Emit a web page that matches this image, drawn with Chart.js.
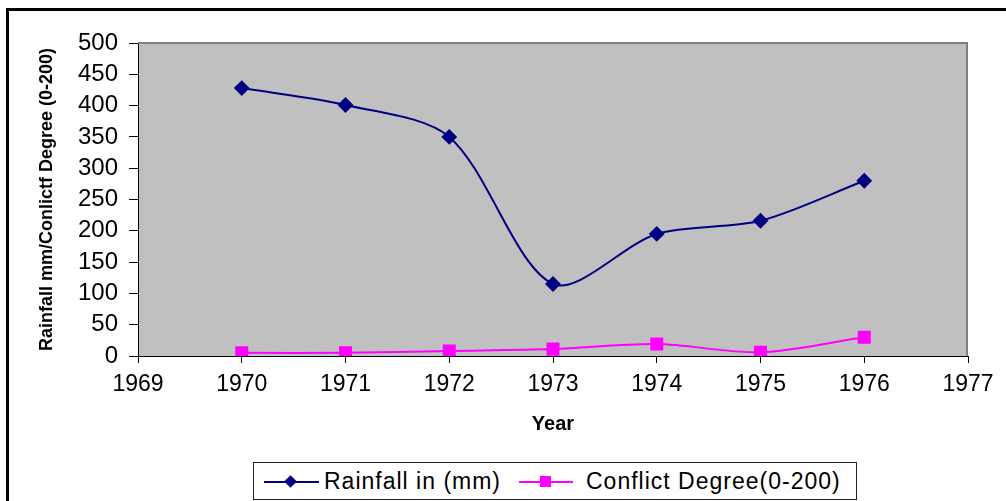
<!DOCTYPE html>
<html><head><meta charset="utf-8">
<script src="https://cdn.jsdelivr.net/npm/chart.js@4"></script>
<style>
html,body{margin:0;padding:0;background:#fff;width:1006px;height:501px;overflow:hidden;}
#frame{position:absolute;left:6px;top:8px;width:1100px;height:600px;border:3px solid #000;box-sizing:border-box;}
#c{position:absolute;left:0;top:0;}
#legend{position:absolute;left:253px;top:462px;width:604px;height:38px;border:1px solid #222;box-sizing:border-box;background:#fff;font-family:"Liberation Sans",Arial,sans-serif;font-size:23px;letter-spacing:1px;color:#000;}
.ln{position:absolute;height:2px;top:18px;}
.txt{position:absolute;top:5px;white-space:nowrap;line-height:26px;}
.dia{position:absolute;width:9px;height:9px;transform:rotate(45deg);}
.sq{position:absolute;width:11px;height:11px;}
</style>
</head><body>
<div id="frame"></div>
<canvas id="c" width="1006" height="501"></canvas>
<div id="legend">
  <div class="ln" style="left:10px;width:55px;background:#000080"></div>
  <div class="dia" style="left:32px;top:14px;background:#000080"></div>
  <div class="txt" style="left:70px">Rainfall in (mm)</div>
  <div class="ln" style="left:265px;width:54px;background:#FF00FF"></div>
  <div class="sq" style="left:286px;top:13px;background:#FF00FF"></div>
  <div class="txt" style="left:332px">Conflict Degree(0-200)</div>
</div>
<script>
const years = [1970, 1971, 1972, 1973, 1974, 1975, 1976];
const rainfall = [428, 401, 350, 115, 195, 216, 280];
const conflict = [5, 5, 8, 11, 19, 6, 30];
const xTicks = [1969, 1970, 1971, 1972, 1973, 1974, 1975, 1976, 1977];
const yTicks = [0, 50, 100, 150, 200, 250, 300, 350, 400, 450, 500];

const bgPlugin = {
  id: 'bg',
  beforeDraw(chart) {
    const {ctx, chartArea: a} = chart;
    ctx.save();
    ctx.fillStyle = '#C0C0C0';
    ctx.fillRect(a.left, a.top, a.right - a.left, a.bottom - a.top);
    ctx.restore();
  },
  beforeDatasetsDraw(chart) {
    const {ctx, chartArea: a} = chart;
    ctx.save();
    ctx.strokeStyle = '#808080';
    ctx.lineWidth = 2;
    ctx.beginPath();
    ctx.moveTo(a.left, a.top);
    ctx.lineTo(a.right - 1, a.top);
    ctx.lineTo(a.right - 1, a.bottom);
    ctx.stroke();
    ctx.restore();
  }
};

const font = "'Liberation Sans', Arial, sans-serif";
new Chart(document.getElementById('c'), {
  type: 'line',
  data: {
    datasets: [
      {
        label: 'Rainfall in (mm)',
        data: years.map((y, i) => ({x: y, y: rainfall[i]})),
        borderColor: '#000080', backgroundColor: '#000080',
        borderWidth: 2, pointStyle: 'rectRot', pointRadius: 6.5,
        tension: 0.3, fill: false
      },
      {
        label: 'Conflict Degree(0-200)',
        data: years.map((y, i) => ({x: y, y: conflict[i]})),
        borderColor: '#FF00FF', backgroundColor: '#FF00FF',
        borderWidth: 2, pointStyle: 'rect', pointRadius: 7.8,
        tension: 0.3, fill: false
      }
    ]
  },
  options: {
    responsive: false, animation: false, devicePixelRatio: 1,
    layout: {padding: {top: 43, right: 38, bottom: 0, left: 0}},
    plugins: {legend: {display: false}, tooltip: {enabled: false}},
    scales: {
      x: {
        type: 'linear', min: 1969, max: 1977,
        afterBuildTicks(s) { s.ticks = xTicks.map(v => ({value: v})); },
        afterFit(s) { s.height = 145; },
        border: {color: '#000', width: 1},
        grid: {drawOnChartArea: false, color: '#000', tickLength: 7},
        ticks: {color: '#000', font: {family: font, size: 23}, padding: 8, callback: v => String(v), maxRotation: 0, autoSkip: false},
        title: {display: true, text: 'Year', color: '#000', font: {family: font, size: 20, weight: 'bold'}, padding: {top: 0, bottom: 65}}
      },
      y: {
        min: 0, max: 500,
        afterBuildTicks(s) { s.ticks = yTicks.map(v => ({value: v})); },
        afterFit(s) { s.width = 138; },
        border: {color: '#000', width: 1},
        grid: {drawOnChartArea: false, color: '#000', tickLength: 9},
        ticks: {color: '#000', font: {family: font, size: 24}, padding: 11, callback: v => String(v), autoSkip: false},
        title: {display: true, text: 'Rainfall mm/Conlictf Degree (0-200)', color: '#000', font: {family: font, size: 18, weight: 'bold'}, padding: {top: 36, bottom: 0}}
      }
    }
  },
  plugins: [bgPlugin]
});
</script>
</body></html>
